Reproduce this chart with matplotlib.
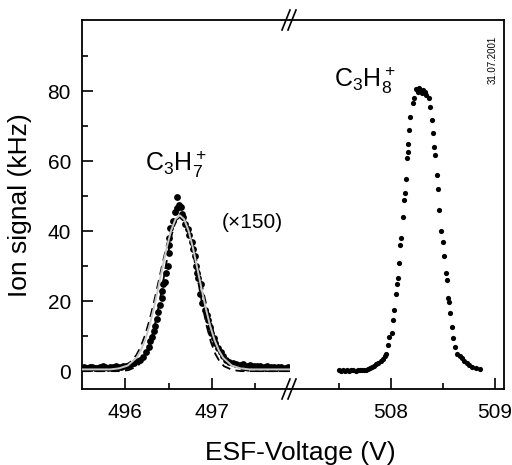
import matplotlib
matplotlib.use("Agg")
import matplotlib.pyplot as plt
from matplotlib.lines import Line2D

plt.rcParams['font.family'] = ['Liberation Sans', 'DejaVu Sans']
plt.rcParams['mathtext.fontset'] = 'custom'
plt.rcParams['mathtext.rm'] = 'Liberation Sans'

# C3H7+ data points (x150)
c3h7_x = [495.50, 495.53, 495.56, 495.59, 495.62, 495.65, 495.68, 495.71, 495.74, 495.77,
          495.80, 495.83, 495.86, 495.89, 495.92, 495.95, 495.98, 496.01, 496.04, 496.07,
          496.10, 496.13, 496.17, 496.21, 496.24, 496.27, 496.29, 496.31, 496.33, 496.35,
          496.37, 496.38, 496.40, 496.42, 496.43, 496.44, 496.46, 496.47, 496.49, 496.50,
          496.51, 496.51, 496.52, 496.55, 496.57, 496.60, 496.60, 496.62, 496.64, 496.66,
          496.67, 496.69, 496.72, 496.74, 496.77, 496.78, 496.80, 496.82, 496.83, 496.84,
          496.86, 496.87, 496.89, 496.92, 496.94, 496.96, 496.98, 496.99, 497.02, 497.04,
          497.07, 497.10, 497.13, 497.16, 497.20, 497.24, 497.28, 497.32, 497.36, 497.40,
          497.44, 497.48, 497.52, 497.56, 497.60, 497.64, 497.68, 497.72, 497.76, 497.80,
          497.84, 497.88]
c3h7_y = [1.0, 1.2, 0.9, 1.1, 1.3, 1.0, 0.9, 1.2, 1.4, 1.1,
          1.0, 1.3, 1.2, 1.5, 1.1, 1.3, 1.6, 1.4, 1.8, 2.0,
          2.3, 2.8, 3.3, 4.0, 5.5, 6.9, 8.5, 9.7, 11.5, 13.0,
          15.0, 17.0, 19.0, 21.0, 23.0, 25.0, 25.5, 28.0, 30.0, 33.7,
          36.0, 38.0, 41.0, 43.0, 45.5, 49.7, 46.5, 47.5, 47.0, 45.0,
          44.0, 42.0, 40.5, 39.0, 37.0, 35.0, 33.0, 30.0, 28.0, 26.6,
          22.0, 25.0, 19.5, 17.4, 16.0, 14.6, 12.5, 11.0, 9.5, 8.0,
          6.5, 5.4, 4.2, 3.1, 2.6, 2.2, 2.0, 1.8, 1.9, 1.6,
          1.7, 1.5, 1.4, 1.6, 1.3, 1.4, 1.2, 1.3, 1.1, 1.2,
          1.0, 1.1]

# fit curves
fit_x = [495.50, 495.83, 495.93, 496.03, 496.13, 496.18, 496.23, 496.28, 496.33, 496.38,
         496.43, 496.48, 496.53, 496.58, 496.63, 496.68, 496.73, 496.78, 496.83, 496.88,
         496.93, 496.98, 497.03, 497.08, 497.13, 497.23, 497.33, 497.43, 497.90]
fit_y = [0.5, 0.5, 0.8, 1.6, 3.8, 5.9, 8.9, 12.9, 17.9, 23.6,
         29.6, 35.4, 40.2, 43.4, 44.5, 43.4, 40.2, 35.4, 29.6, 23.6,
         17.9, 12.9, 8.9, 5.9, 3.8, 1.6, 0.8, 0.5, 0.5]

narrow_x = [495.50, 495.94, 496.04, 496.14, 496.19, 496.24, 496.29, 496.34, 496.39, 496.44,
            496.49, 496.54, 496.59, 496.64, 496.69, 496.74, 496.79, 496.84, 496.89, 496.94,
            496.99, 497.04, 497.09, 497.14, 497.24, 497.34, 497.90]
narrow_y = [0.0, 0.0, 0.3, 1.4, 2.7, 4.9, 8.2, 12.9, 18.9, 25.9,
            33.0, 39.2, 43.5, 45.0, 43.5, 39.2, 33.0, 25.9, 18.9, 12.9,
            8.2, 4.9, 2.7, 1.4, 0.3, 0.0, 0.0]

wide_x = [495.50, 495.73, 495.83, 495.93, 496.03, 496.13, 496.18, 496.23, 496.28, 496.33,
          496.38, 496.43, 496.48, 496.53, 496.58, 496.63, 496.68, 496.73, 496.78, 496.83,
          496.88, 496.93, 496.98, 497.03, 497.08, 497.13, 497.23, 497.33, 497.43, 497.53,
          497.90]
wide_y = [0.0, 0.0, 0.1, 0.5, 1.7, 4.6, 7.0, 10.3, 14.5, 19.5,
          25.0, 30.6, 35.9, 40.2, 43.0, 44.0, 43.0, 40.2, 35.9, 30.6,
          25.0, 19.5, 14.5, 10.3, 7.0, 4.6, 1.7, 0.5, 0.1, 0.0,
          0.0]

# C3H8+ data points
c3h8_x = [507.50, 507.52, 507.54, 507.56, 507.58, 507.60, 507.62, 507.64, 507.66, 507.68,
          507.70, 507.72, 507.74, 507.76, 507.78, 507.80, 507.82, 507.84, 507.86, 507.88,
          507.90, 507.92, 507.94, 507.95, 507.97, 507.98, 508.01, 508.02, 508.03, 508.05,
          508.06, 508.07, 508.075, 508.09, 508.10, 508.12, 508.13, 508.14, 508.145, 508.15,
          508.16, 508.165, 508.17, 508.18, 508.21, 508.22, 508.24, 508.26, 508.27, 508.29,
          508.30, 508.31, 508.33, 508.34, 508.37, 508.38, 508.395, 508.40, 508.41, 508.42,
          508.44, 508.45, 508.46, 508.48, 508.50, 508.51, 508.53, 508.54, 508.55, 508.56,
          508.57, 508.59, 508.60, 508.62, 508.64, 508.66, 508.68, 508.70, 508.73, 508.75,
          508.78, 508.82, 508.86]
c3h8_y = [0.2, 0.1, 0.2, 0.1, 0.2, 0.1, 0.2, 0.2, 0.1, 0.2,
          0.3, 0.2, 0.3, 0.4, 0.6, 0.8, 1.1, 1.6, 2.0, 2.4,
          2.9, 3.5, 4.2, 5.0, 7.4, 9.7, 11.0, 14.6, 17.4, 22.0,
          25.0, 26.6, 31.0, 36.0, 38.0, 44.0, 49.0, 51.0, 55.0, 61.0,
          62.6, 65.0, 69.0, 72.6, 76.6, 78.0, 80.5, 79.8, 80.8, 80.0,
          79.5, 80.3, 79.8, 79.0, 78.0, 75.4, 71.7, 68.0, 64.0, 61.7,
          56.0, 52.0, 46.0, 40.0, 37.0, 33.0, 28.0, 26.0, 21.0, 19.7,
          16.6, 12.6, 9.4, 7.0, 5.0, 4.2, 3.7, 3.0, 2.3, 1.8,
          1.2, 0.8, 0.5]

fig = plt.figure(figsize=(5.12, 4.65), dpi=100)
ax1 = fig.add_axes([82/512, 1-389/465, 208/512, 369/465])
ax2 = fig.add_axes([290/512, 1-389/465, 214/512, 369/465])

ax1.scatter(c3h7_x, c3h7_y, s=24, color='black', zorder=2, linewidths=0)
ax1.plot(wide_x, wide_y, color='black', lw=1.3, ls=(0, (5, 3)), zorder=3)
ax1.plot(narrow_x, narrow_y, color='black', lw=1.3, ls=(0, (5, 3)), zorder=3)
ax1.plot(fit_x, fit_y, color='#c8c8c8', lw=1.4, zorder=4)

ax2.scatter(c3h8_x, c3h8_y, s=14, color='black', linewidths=0)

ax1.set_xlim(495.503, 497.90)
ax2.set_xlim(507.03, 509.087)
for ax in (ax1, ax2):
    ax.set_ylim(-5.1, 100.3)
    ax.tick_params(which='both', direction='in', labelsize=15, top=False, right=False)
    ax.tick_params(which='major', length=8, width=1.2)
    ax.tick_params(which='minor', length=4, width=1.2)
    for s in ax.spines.values():
        s.set_linewidth(1.3)

ax1.spines['right'].set_visible(False)
ax2.spines['left'].set_visible(False)
ax1.set_xticks([496, 497])
ax1.set_xticks([496.5, 497.5], minor=True)
ax2.set_xticks([508, 509])
ax2.set_xticks([507.5, 508.5], minor=True)
ax1.set_yticks([0, 20, 40, 60, 80])
ax1.set_yticks([10, 30, 50, 70, 90], minor=True)
ax2.set_yticks([])
ax2.set_yticks([], minor=True)
ax1.tick_params(axis='y', pad=8)
ax1.tick_params(axis='x', pad=10)
ax2.tick_params(axis='x', pad=10)

# break marks
for yb in (1-389/465, 1-20/465):
    for dx in (-4, 2):
        x0 = (290 + dx) / 512
        fig.add_artist(Line2D([x0 - 4/512, x0 + 4/512], [yb - 10/465, yb + 10/465],
                              color='black', lw=1.2))

ax1.text(496.58, 59, r'$\mathregular{C_3H_7^+}$', fontsize=18, ha='center', va='center')
ax1.text(497.47, 42.6, '(\u00d7150)', fontsize=15, ha='center', va='center')
ax2.text(507.75, 83, r'$\mathregular{C_3H_8^+}$', fontsize=18, ha='center', va='center')
ax2.text(508.98, 89, '31.07.2001', fontsize=7, rotation=90, ha='center', va='center')

fig.text(300/512, 1-453/465, 'ESF-Voltage (V)', fontsize=19, ha='center', va='center')
fig.text(20/512, 1-205/465, 'Ion signal (kHz)', fontsize=19, rotation=90, ha='center', va='center')

fig.savefig('out.png', dpi=100)
